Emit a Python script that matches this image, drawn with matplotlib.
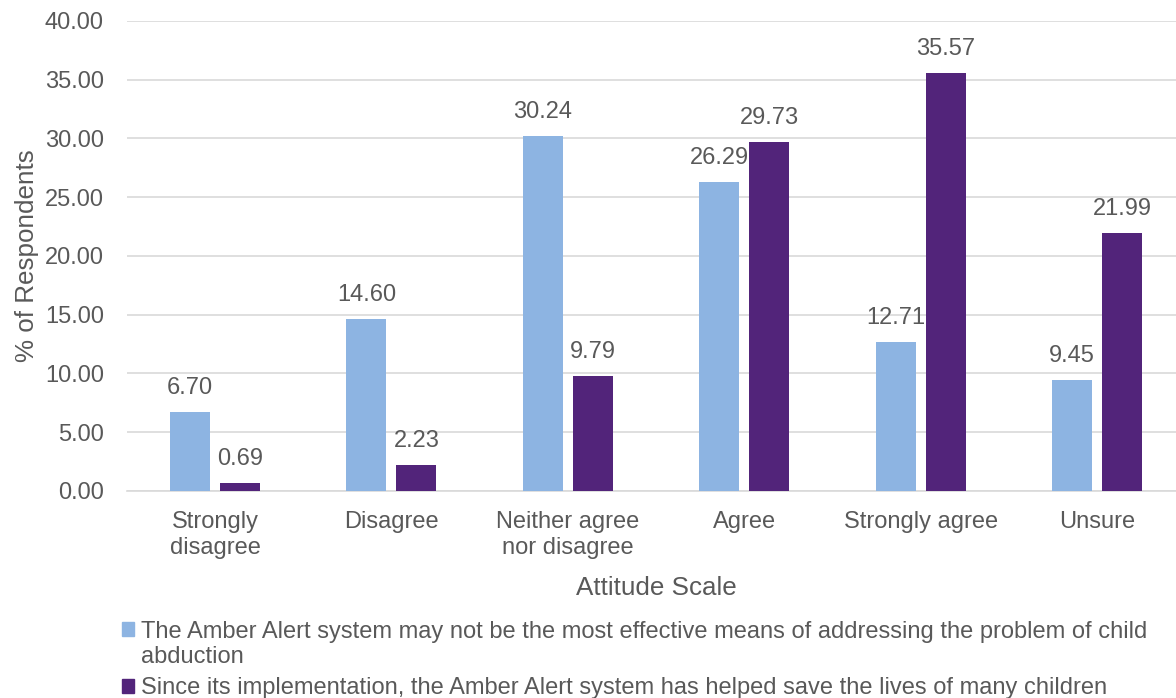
import matplotlib
matplotlib.use("Agg")
import matplotlib.pyplot as plt
from matplotlib.patches import Patch
import numpy as np

# survey responses, % of respondents per attitude category
categories = ["Strongly\ndisagree", "Disagree", "Neither agree\nnor disagree",
              "Agree", "Strongly agree", "Unsure"]
not_effective = [6.70, 14.60, 30.24, 26.29, 12.71, 9.45]
saved_lives = [0.69, 2.23, 9.79, 29.73, 35.57, 21.99]
series_labels = [
    ["The Amber Alert system may not be the most effective means of addressing the problem of child",
     "abduction"],
    ["Since its implementation, the Amber Alert system has helped save the lives of many children"],
]
yticks = np.arange(0, 45, 5)

plt.rcParams['font.family'] = ['Liberation Sans', 'DejaVu Sans']
txt = '#595959'
light = '#8DB4E2'
purple = '#52247A'

fig = plt.figure(figsize=(11.76, 6.98), dpi=100)
# plot area runs a little past the right edge of the canvas
ax = fig.add_axes([0.1078, 0.2966, 0.900, 0.6734])

x = np.arange(len(categories))
w = 0.227
off = 0.142
b1 = ax.bar(x - off, not_effective, w, color=light, zorder=3)
b2 = ax.bar(x + off, saved_lives, w, color=purple, zorder=3)

for bars, vals in ((b1, not_effective), (b2, saved_lives)):
    for b, v in zip(bars, vals):
        ax.annotate('%.2f' % v, (b.get_x() + b.get_width() / 2, v),
                    xytext=(0, 13), textcoords='offset points',
                    ha='center', va='baseline', fontsize=17, color=txt)

ax.set_xlim(-0.5, len(categories) - 0.5)
ax.set_ylim(0, 40)
ax.set_yticks(yticks)
ax.set_yticklabels(['%.2f' % t for t in yticks])
ax.set_xticks(x)
ax.set_xticklabels(categories, linespacing=1.25)
ax.tick_params(axis='both', length=0, labelsize=17, labelcolor=txt)
ax.tick_params(axis='y', pad=16.5)
ax.tick_params(axis='x', pad=14.5)
ax.grid(axis='y', color='#D9D9D9', linewidth=1.2, zorder=0)
for s in ['top', 'right', 'left']:
    ax.spines[s].set_visible(False)
ax.spines['bottom'].set_color('#D9D9D9')
ax.spines['bottom'].set_linewidth(1.2)

ax.set_xlabel('Attitude Scale', fontsize=18.7, color=txt, labelpad=12)
ax.set_ylabel('% of Respondents', fontsize=18.7, color=txt, labelpad=4)

# legend in two blocks; the wrapped line of the first series gets an empty handle
leg_kw = dict(loc='upper left', frameon=False, fontsize=17, labelcolor=txt,
              handlelength=0.5, handleheight=0.5, handletextpad=0.3,
              labelspacing=0.16, borderaxespad=0, borderpad=0)
fig.legend([Patch(color=light), Patch(color='none')], series_labels[0],
           bbox_to_anchor=(0.1035, 0.111), **leg_kw)
fig.legend([Patch(color=purple)], series_labels[1],
           bbox_to_anchor=(0.1035, 0.0294), **leg_kw)

plt.savefig('out.png', dpi=100)
